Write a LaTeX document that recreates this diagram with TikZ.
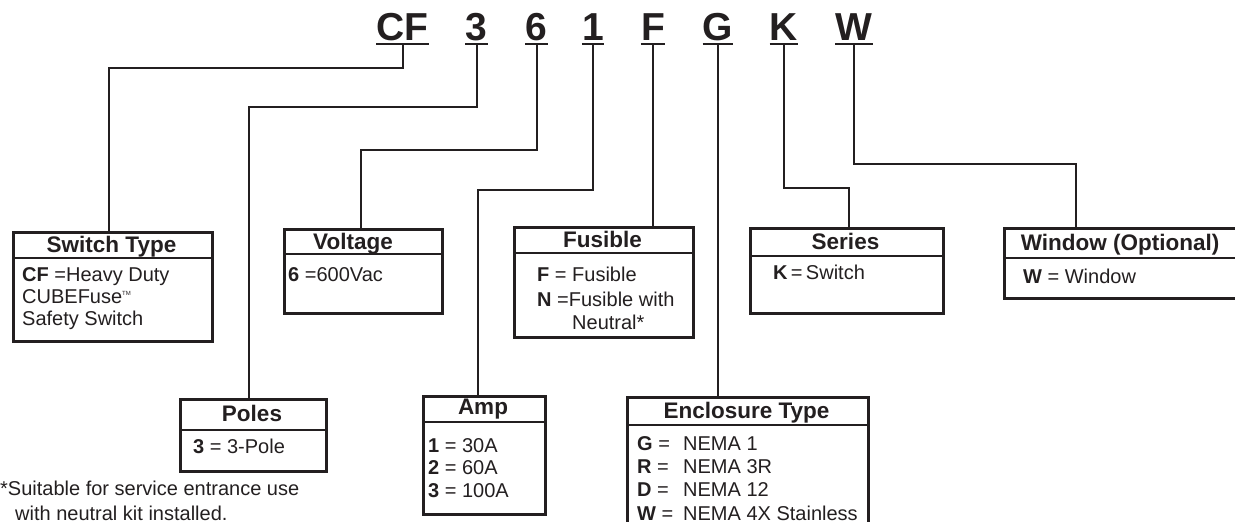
\documentclass[tikz,border=0pt]{standalone}
\usepackage{fontspec}
\setmainfont{Liberation Sans}
\definecolor{ink}{HTML}{231F20}
\begin{document}
\begin{tikzpicture}[x=1pt,y=-1pt,
  code/.style={font=\fontsize{39}{39}\selectfont\bfseries, inner sep=0pt, anchor=base, text=ink},
  uline/.style={line width=2pt, draw=ink},
  conn/.style={line width=2pt, draw=ink},
  box/.style={draw=ink, line width=2.5pt, rectangle, inner sep=0pt, anchor=north west},
  divider/.style={line width=2.5pt, draw=ink},
  ttl/.style={font=\fontsize{22.5}{22.5}\selectfont\bfseries, inner sep=0pt, anchor=base, text=ink},
  txt/.style={font=\fontsize{20}{20}\selectfont, inner sep=0pt, anchor=base west, text=ink}]
\useasboundingbox (0,0) rectangle (1235,522);
\clip (0,0) rectangle (1235,522);

% code letters
\node[code] (cCF) at (402.5,40) {CF};
\node[code] (c3) at (476.5,40) {3};
\node[code] (c6) at (536.5,40) {6};
\node[code] (c1) at (593,40) {1};
\node[code] (cF) at (653,40) {F};
\node[code] (cG) at (718,40) {G};
\node[code] (cK) at (784,40) {K};
\node[code] (cW) at (854,40) {W};
\foreach \n in {cCF,c3,c6,c1,cF,cG,cK,cW}{
  \draw[uline] ([yshift=-4pt]\n.base west) -- ([yshift=-4pt]\n.base east);
  \coordinate (u\n) at ([yshift=-4pt]\n.base);
}

% boxes
\node[box, minimum width=199pt, minimum height=109pt] (sw) at (12,231) {};
\node[box, minimum width=158pt, minimum height=84pt] (vo) at (283,228) {};
\node[box, minimum width=179pt, minimum height=110pt] (fu) at (513,226) {};
\node[box, minimum width=193pt, minimum height=85pt] (se) at (749,227) {};
\node[box, minimum width=260pt, minimum height=70pt] (wi) at (1003,227) {};
\node[box, minimum width=146pt, minimum height=72pt] (po) at (179,398) {};
\node[box, minimum width=122pt, minimum height=118pt] (am) at (422,395) {};
\node[box, minimum width=241pt, minimum height=140pt] (en) at (626,396) {};

% header dividers
\draw[divider] ([yshift=-27pt]sw.north west) -- ([yshift=-27pt]sw.north east);
\draw[divider] ([yshift=-26pt]vo.north west) -- ([yshift=-26pt]vo.north east);
\draw[divider] ([yshift=-27pt]fu.north west) -- ([yshift=-27pt]fu.north east);
\draw[divider] ([yshift=-29pt]se.north west) -- ([yshift=-29pt]se.north east);
\draw[divider] ([yshift=-31pt]wi.north west) -- ([yshift=-31pt]wi.north east);
\draw[divider] ([yshift=-32pt]po.north west) -- ([yshift=-32pt]po.north east);
\draw[divider] ([yshift=-27pt]am.north west) -- ([yshift=-27pt]am.north east);
\draw[divider] ([yshift=-29pt]en.north west) -- ([yshift=-29pt]en.north east);

% bend coordinates
\coordinate (kCF) at (109,68);
\coordinate (k3) at (249,107);
\coordinate (k6) at (361,150);
\coordinate (k1) at (478,190);
\coordinate (kK) at (849,188);
\coordinate (kW) at (1076,164);

% connectors
\draw[conn] (ucCF) |- (kCF) -- (kCF |- sw.north);
\draw[conn] (uc3) |- (k3) -- (k3 |- po.north);
\draw[conn] (uc6) |- (k6) -- (k6 |- vo.north);
\draw[conn] (uc1) |- (k1) -- (k1 |- am.north);
\draw[conn] (ucF) -- (ucF |- fu.north);
\draw[conn] (ucG) -- (ucG |- en.north);
\draw[conn] (ucK) |- (kK) -- (kK |- se.north);
\draw[conn] (ucW) |- (kW) -- (kW |- wi.north);

% titles
\node[ttl] (tsw) at (111.5,252) {Switch Type};
\node[ttl] (tvo) at (353,249) {Voltage};
\node[ttl] (tfu) at (602.5,247.5) {Fusible};
\node[ttl] (tse) at (845.5,249.5) {Series};
\node[ttl] (twi) at (1120,250.5) {Window (Optional)};
\node[ttl] (tpo) at (252,421) {Poles};
\node[ttl] (tam) at (483,414) {Amp};
\node[ttl] (ten) at (746.5,418) {Enclosure Type};

% body texts
\node[txt] (sw1) at (22,281) {\bfseries CF\mdseries{} =Heavy Duty};
\node[txt] (sw2) at (22,303) {CUBEFuse\raisebox{8pt}{\fontsize{6}{6}\selectfont TM}};
\node[txt] (sw3) at (22,325) {Safety Switch};
\node[txt] (vo1) at (288,281) {\bfseries 6\mdseries{} =600Vac};
\node[txt] (fu1) at (537,281) {\bfseries F\mdseries{} = Fusible};
\node[txt] (fu2) at (537,306) {\bfseries N\mdseries{} =Fusible with};
\node[txt] (fu3) at (572,329) {Neutral*};
\node[txt] (se1) at (773,279) {\bfseries K\mdseries{}\,=\,Switch};
\node[txt] (wi1) at (1023,283) {\bfseries W\mdseries{} = Window};
\node[txt] (po1) at (193,453) {\bfseries 3\mdseries{} = 3-Pole};
\node[txt] (am1) at (428,452) {\bfseries 1\mdseries{} = 30A};
\node[txt] (am2) at (428,474) {\bfseries 2\mdseries{} = 60A};
\node[txt] (am3) at (428,497) {\bfseries 3\mdseries{} = 100A};
\node[txt] (en1) at (637,450) {\bfseries G\mdseries{} =};
\node[txt] (en2) at (637,473) {\bfseries R\mdseries{} =};
\node[txt] (en3) at (637,496) {\bfseries D\mdseries{} =};
\node[txt] (en4) at (637,520) {\bfseries W\mdseries{} =};
\node[txt] (en1b) at (683,450) {NEMA 1};
\node[txt] (en2b) at (683,473) {NEMA 3R};
\node[txt] (en3b) at (683,496) {NEMA 12};
\node[txt] (en4b) at (683,520) {NEMA 4X Stainless};
\node[txt] (fn1) at (0,495) {*Suitable for service entrance use};
\node[txt] (fn2) at (15,520) {with neutral kit installed.};
\end{tikzpicture}
\end{document}
